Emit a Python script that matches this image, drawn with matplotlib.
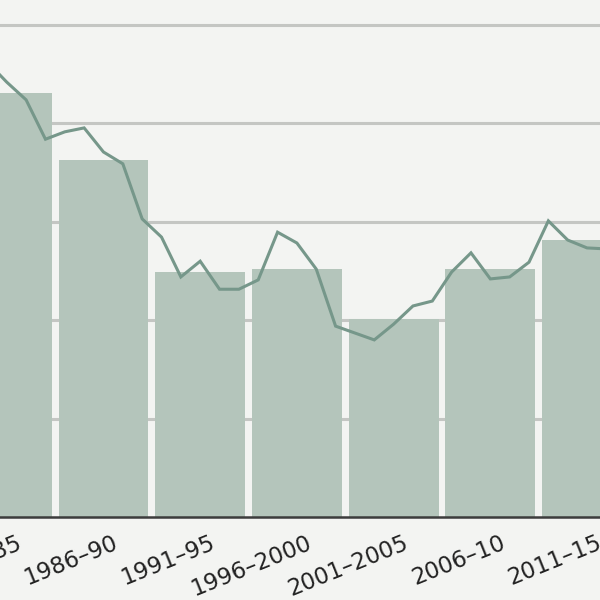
import numpy as np
import matplotlib
matplotlib.use("Agg")
import matplotlib.pyplot as plt
from matplotlib.transforms import ScaledTranslation

# five-year periods (bars) and yearly series (line)
periods = ["1981–85", "1986–90", "1991–95", "1996–2000", "2001–2005",
           "2006–10", "2011–15", "2016–2020"]
period_values = [8.62, 7.26, 4.98, 5.04, 4.02, 5.04, 5.63]

years = list(range(1982, 2015))
year_values = [9.25, 8.84, 8.48, 7.68, 7.83, 7.91, 7.42, 7.18, 6.06, 5.69,
               4.88, 5.20, 4.63, 4.63, 4.82, 5.79, 5.57, 5.04, 3.88, 3.74,
               3.60, 3.92, 4.29, 4.39, 4.98, 5.37, 4.84, 4.88, 5.18, 6.02,
               5.63, 5.47, 5.45]

bg = "#f3f4f2"
bar_col = "#b4c5bb"
line_col = "#76978a"

fig = plt.figure(figsize=(6, 6), dpi=100, facecolor=bg)
ax = fig.add_axes([0, 83 / 600, 1, 517 / 600])
ax.set_facecolor(bg)

xb = np.arange(len(period_values))
ax.bar(xb, period_values, width=0.93, color=bar_col, zorder=2)

# yearly points: bar i is centred on year 1983 + 5 i
xl = (np.array(years) - 1983) / 5
ax.plot(xl, year_values, color=line_col, lw=2.2, zorder=3,
        solid_joinstyle="miter")

ax.set_yticks([2, 4, 6, 8, 10])
ax.yaxis.grid(True, color="#c4c6c3", lw=2.2, zorder=0)
ax.tick_params(axis="y", left=False, labelleft=False)

for s in ["top", "right", "left"]:
    ax.spines[s].set_visible(False)
ax.spines["bottom"].set_color("#3c3c3c")
ax.spines["bottom"].set_linewidth(1.8)
ax.spines["bottom"].set_zorder(4)

ax.set_xticks(np.arange(len(periods)))
ax.set_xticklabels(periods, rotation=22, ha="right", va="top",
                   rotation_mode="anchor", fontsize=16.5, color="#222222")
ax.tick_params(axis="x", length=0, pad=10.5)
off = ScaledTranslation(6.8 / 72, 0, fig.dpi_scale_trans)
for lab in ax.get_xticklabels():
    lab.set_transform(lab.get_transform() + off)

# limits last so the ticks do not widen the view
ax.set_ylim(0, 10.51)
ax.set_xlim(-0.07, 6.134)

fig.savefig("out.png", dpi=100, facecolor=bg)
